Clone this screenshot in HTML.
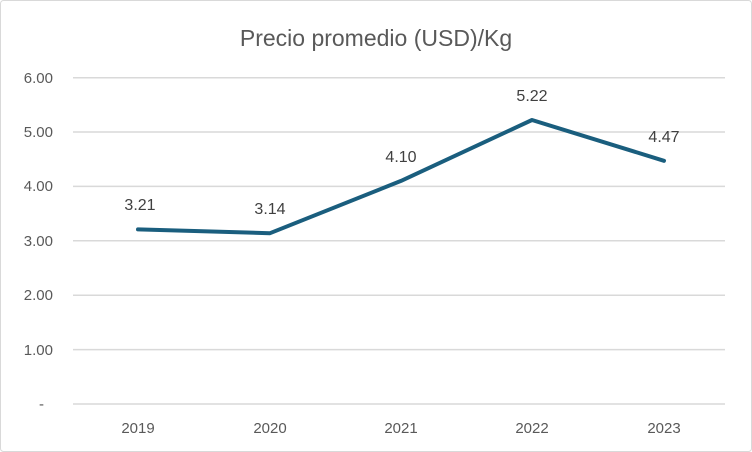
<!DOCTYPE html>
<html><head><meta charset="utf-8"><style>
body{margin:0;background:#fff;}
svg{display:block;font-family:"Liberation Sans",sans-serif;}
</style></head><body>
<svg width="752" height="452" viewBox="0 0 752 452">
<rect x="0.5" y="0.5" width="751" height="451" rx="3" fill="#fff" stroke="#d9d9d9"/>
<text x="376" y="46" text-anchor="middle" font-size="23" fill="#595959">Precio promedio (USD)/Kg</text>
<g stroke="#d9d9d9" stroke-width="1.5">
<line x1="73" x2="725" y1="77.7" y2="77.7"/>
<line x1="73" x2="725" y1="132" y2="132"/>
<line x1="73" x2="725" y1="186.4" y2="186.4"/>
<line x1="73" x2="725" y1="240.8" y2="240.8"/>
<line x1="73" x2="725" y1="295.2" y2="295.2"/>
<line x1="73" x2="725" y1="349.6" y2="349.6"/>
<line x1="73" x2="725" y1="404" y2="404"/>
</g>
<g font-size="15" fill="#595959" text-anchor="end">
<text x="53" y="83">6.00</text>
<text x="53" y="137">5.00</text>
<text x="53" y="191">4.00</text>
<text x="53" y="246">3.00</text>
<text x="53" y="300">2.00</text>
<text x="53" y="355">1.00</text>
<text x="44" y="409">-</text>
</g>
<g font-size="15" fill="#595959" text-anchor="middle">
<text x="138" y="433">2019</text>
<text x="270" y="433">2020</text>
<text x="401" y="433">2021</text>
<text x="532" y="433">2022</text>
<text x="664" y="433">2023</text>
</g>
<polyline fill="none" stroke="#1a5e7e" stroke-width="4" stroke-linejoin="round" stroke-linecap="round"
points="138,229.4 270,233.2 401,180.9 532,120 664,160.8"/>
<g font-size="16" fill="#404040" text-anchor="middle">
<text x="140" y="210">3.21</text>
<text x="270" y="214">3.14</text>
<text x="401" y="162">4.10</text>
<text x="532" y="101">5.22</text>
<text x="664" y="142">4.47</text>
</g>
</svg>
</body></html>
